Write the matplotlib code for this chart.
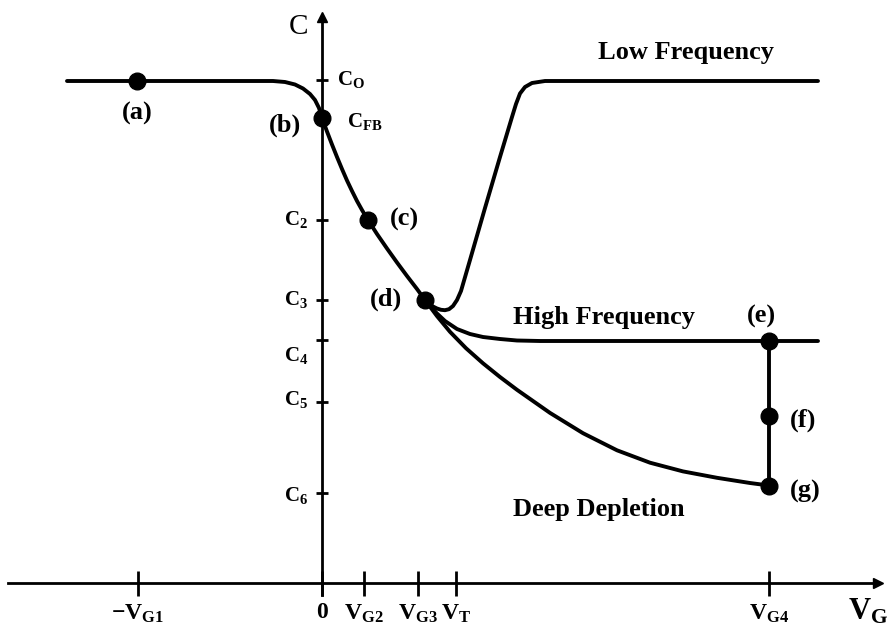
import matplotlib.pyplot as plt

plt.rcParams["font.family"] = ["Liberation Serif", "DejaVu Serif"]
plt.rcParams["mathtext.fontset"] = "custom"
plt.rcParams["mathtext.rm"] = "Liberation Serif"
plt.rcParams["mathtext.it"] = "Liberation Serif:italic"
plt.rcParams["mathtext.bf"] = "Liberation Serif:bold"

# gate voltage ticks (arbitrary units) and labels
vg_ticks = [-18.4, 0.0, 4.2, 9.6, 13.4, 44.7]
vg_labels = [r"$\mathbf{-V_{G1}}$", r"$\mathbf{0}$", r"$\mathbf{V_{G2}}$", r"$\mathbf{V_{G3}}$",
             r"$\mathbf{V_{T}}$", r"$\mathbf{V_{G4}}$"]

# capacitance levels (arbitrary units)
c_ticks = [50.3, 46.5, 36.3, 28.3, 24.3, 18.1, 9.0]
c_labels = [r"$\mathbf{C_{O}}$", r"$\mathbf{C_{FB}}$", r"$\mathbf{C_{2}}$", r"$\mathbf{C_{3}}$",
            r"$\mathbf{C_{4}}$", r"$\mathbf{C_{5}}$", r"$\mathbf{C_{6}}$"]

# accumulation -> depletion part, common to all curves up to point (d)
common_v = [-25.5, -18.5, -12.2, -6.2, -4.9, -3.7, -2.7, -1.9, -1.2, -0.7, -0.3, 0.0,
            0.5, 1.0, 1.5, 2.0, 2.5, 3.0, 3.5, 4.0, 4.6, 5.5, 6.5, 7.5, 8.5, 9.5, 10.3]
common_c = [50.2, 50.2, 50.2, 50.2, 50.2, 50.1, 49.85, 49.45, 48.9, 48.3, 47.5, 46.5,
            45.15, 43.85, 42.6, 41.4, 40.25, 39.2, 38.2, 37.3, 36.3, 34.9, 33.45, 32.05,
            30.7, 29.4, 28.3]

# low frequency branch
lf_v = [10.3, 10.7, 11.1, 11.5, 11.9, 12.3, 12.7, 13.1, 13.5, 13.9, 14.8, 16.3, 17.8,
        19.0, 19.4, 19.8, 20.3, 21.0, 22.3, 24.8, 49.6]
lf_c = [28.3, 27.95, 27.65, 27.45, 27.32, 27.28, 27.38, 27.7, 28.3, 29.2, 32.3, 37.5,
        42.6, 46.6, 47.9, 48.95, 49.6, 50.0, 50.2, 50.2, 50.2]

# high frequency branch
hf_v = [10.3, 10.9, 11.5, 12.3, 13.5, 14.8, 16.1, 17.8, 19.5, 21.8, 49.6]
hf_c = [28.3, 27.6, 26.95, 26.2, 25.4, 24.9, 24.6, 24.4, 24.25, 24.2, 24.2]

# deep depletion branch
dd_v = [10.3, 11.5, 12.8, 14.4, 16.1, 17.8, 19.5, 22.8, 26.1, 29.5, 32.8, 36.1,
        39.5, 42.8, 44.7]
dd_c = [28.3, 26.69, 25.12, 23.48, 21.97, 20.6, 19.32, 17.01, 14.98, 13.27, 12.03, 11.16,
        10.52, 10.0, 9.75]

# labelled operating points
pt_names = ["(a)", "(b)", "(c)", "(d)", "(e)", "(f)", "(g)"]
pt_v = [-18.5, 0.0, 4.6, 10.3, 44.7, 44.7, 44.7]
pt_c = [50.2, 46.5, 36.3, 28.3, 24.2, 16.7, 9.75]
pt_label_dv = [0.0, -3.7, 3.6, -3.9, -0.8, 3.4, 3.6]
pt_label_dc = [-3.2, -0.7, 0.1, 0.1, 2.5, -0.4, -0.6]

fig = plt.figure(figsize=(8.89, 6.36), dpi=100)
ax = fig.add_axes([0, 0, 1, 1])
ax.set_xlim(-32.2, 56.7)
ax.set_ylim(-5.3, 58.3)

# axes through the origin
for side in ["top", "right"]:
    ax.spines[side].set_visible(False)
ax.spines["left"].set_position(("data", 0))
ax.spines["bottom"].set_position(("data", 0))
ax.spines["left"].set_bounds(-1.2, 56.3)
ax.spines["bottom"].set_bounds(-31.4, 55.4)
ax.spines["left"].set_linewidth(2)
ax.spines["bottom"].set_linewidth(2)
ax.plot([55.6], [0], marker=">", ms=7, color="k", clip_on=False)
ax.plot([0], [56.6], marker="^", ms=7, color="k", clip_on=False)

ax.set_xticks(vg_ticks, labels=vg_labels)
ax.set_yticks(c_ticks, labels=[""] * len(c_ticks))
ax.tick_params(axis="x", direction="inout", length=18, width=2, pad=5, labelsize=17)
ax.tick_params(axis="y", direction="inout", length=9, width=2)

# capacitance labels: first two on the right of the axis, rest on the left
for i, (c, lab) in enumerate(zip(c_ticks, c_labels)):
    if i < 2:
        ax.text(1.5 + i, c - 0.3 * i, lab, fontsize=15, ha="left", va="center")
    else:
        dy = [0, 0, 0, 0, -1.5, 0.3, -0.3][i]
        ax.text(-1.4, c + dy, lab, fontsize=15, ha="right", va="center")

ax.text(-2.4, 55.6, "C", fontsize=21, ha="center", va="center")
ax.text(54.6, -2.9, r"$\mathbf{V_{G}}$", fontsize=22, ha="center", va="center")

# curves
lw = 2.8
for xs, ys in [(common_v, common_c), (lf_v, lf_c), (hf_v, hf_c), (dd_v, dd_c)]:
    ax.plot(xs, ys, color="k", lw=lw, solid_capstyle="round", solid_joinstyle="round")
ax.plot([pt_v[4], pt_v[6]], [pt_c[4], pt_c[6]], color="k", lw=lw)

ax.plot(pt_v, pt_c, "o", color="k", ms=12, zorder=5)
for name, v, c, dv, dc in zip(pt_names, pt_v, pt_c, pt_label_dv, pt_label_dc):
    ax.text(v + dv, c + dc, name, fontsize=19, fontweight="bold", ha="center", va="center")

ax.text(36.4, 53.0, "Low Frequency", fontsize=19, fontweight="bold", ha="center", va="center")
ax.text(28.2, 26.55, "High Frequency", fontsize=19, fontweight="bold", ha="center", va="center")
ax.text(27.7, 7.35, "Deep Depletion", fontsize=19, fontweight="bold", ha="center", va="center")

fig.savefig("out.png", dpi=100)
